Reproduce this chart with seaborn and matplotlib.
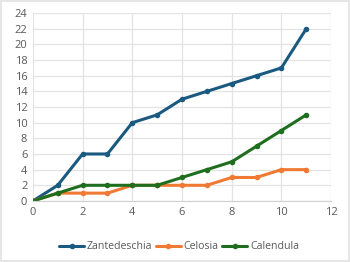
import matplotlib
matplotlib.use("Agg")
import matplotlib.pyplot as plt
import seaborn as sns
import pandas as pd

x = [0, 1, 2, 3, 4, 5, 6, 7, 8, 9, 10, 11]
zantedeschia = [0, 2, 6, 6, 10, 11, 13, 14, 15, 16, 17, 22]
celosia = [0, 1, 1, 1, 2, 2, 2, 2, 3, 3, 4, 4]
calendula = [0, 1, 2, 2, 2, 2, 3, 4, 5, 7, 9, 11]
series_names = ["Zantedeschia", "Celosia", "Calendula"]
colors = ["#1a5a80", "#f07a33", "#1e6e1e"]

df = pd.concat([
    pd.DataFrame({"x": x, "y": zantedeschia, "s": series_names[0]}),
    pd.DataFrame({"x": x, "y": celosia, "s": series_names[1]}),
    pd.DataFrame({"x": x, "y": calendula, "s": series_names[2]}),
])

sns.set_style("white")
plt.rcParams["font.family"] = ["Open Sans", "DejaVu Sans"]

fig = plt.figure(figsize=(3.5, 2.62), dpi=100)
ax = fig.add_axes([0.094, 0.233, 0.852, 0.717])

sns.lineplot(data=df, x="x", y="y", hue="s", palette=colors, marker="o",
             markersize=4, markeredgewidth=0, linewidth=2.2, ax=ax, legend=True)

ax.set_xlim(0, 12)
ax.set_ylim(0, 24)
ax.set_xticks(range(0, 13, 2))
ax.set_yticks(range(0, 25, 2))
ax.grid(True, color="#e3e3e3", linewidth=0.9)
ax.set_axisbelow(True)
for s in ["top", "right", "left"]:
    ax.spines[s].set_visible(False)
ax.spines["bottom"].set_color("#d0d0d0")
ax.tick_params(axis="both", length=0, labelsize=8, labelcolor="#595959", pad=4)
ax.set_xlabel("")
ax.set_ylabel("")

handles, labels = ax.get_legend_handles_labels()
ax.legend(handles, labels, loc="upper center", bbox_to_anchor=(0.49, -0.165),
          ncol=3, frameon=False, fontsize=7.6, handlelength=2.4,
          columnspacing=0.3, handletextpad=0.25, labelcolor="#595959")

fig.patch.set_edgecolor("#e6e6e6")
fig.patch.set_linewidth(1.5)
fig.savefig("out.png", dpi=100, edgecolor=fig.get_edgecolor())
